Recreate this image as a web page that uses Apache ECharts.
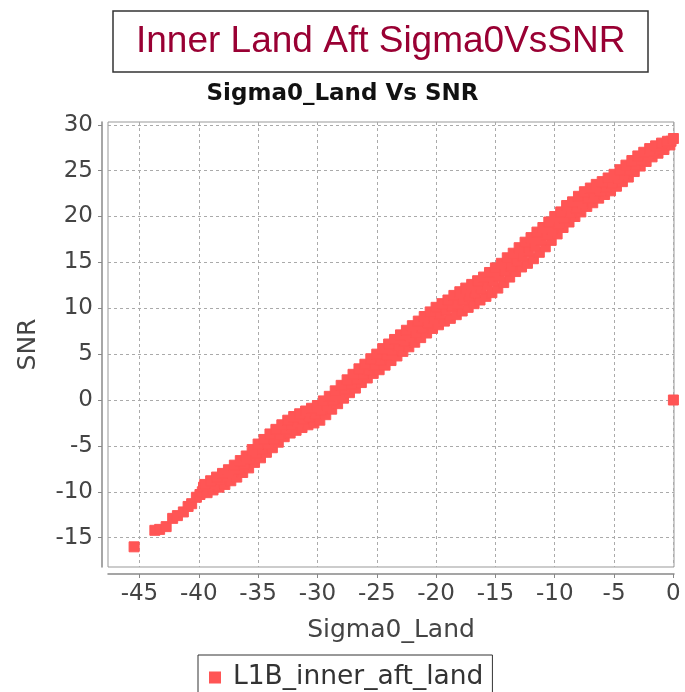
<!DOCTYPE html>
<html>
<head>
<meta charset="utf-8">
<script src="https://cdn.jsdelivr.net/npm/echarts@6/dist/echarts.min.js"></script>
<style>html,body{margin:0;padding:0;background:#fff}#chart{width:685px;height:692px}</style>
</head>
<body>
<div id="chart"></div>
<script>
const chartTitle = 'Inner Land Aft Sigma0VsSNR';
const plotTitle = 'Sigma0_Land Vs SNR';
const xName = 'Sigma0_Land';
const yName = 'SNR';
const seriesName = 'L1B_inner_aft_land';
const xTicks = [-45, -40, -35, -30, -25, -20, -15, -10, -5, 0];
const yTicks = [-15, -10, -5, 0, 5, 10, 15, 20, 25, 30];

// [Sigma0_Land, SNR]
const outlierPoints = [[-45.45, -16.0], [0.0, 0.0]];
const tailPoints = [
  [-43.7,-14.2],[-43.3,-14.1],[-42.75,-13.8],[-42.2,-12.9],[-41.8,-12.6],[-41.3,-12.2],
  [-40.9,-11.6],[-40.6,-11.3],[-40.2,-10.6],[-39.9,-10.3],[-39.7,-10.0],[-39.6,-9.5]
];
const bandUpper = [
  [-39.5,-9.2],[-39.0,-8.8],[-38.5,-8.4],[-38.0,-8.0],[-37.5,-7.6],[-37.0,-7.1],[-36.5,-6.6],[-36.0,-6.1],
  [-35.5,-5.4],[-35.0,-4.8],[-34.5,-4.3],[-34.0,-3.7],[-33.5,-3.2],[-33.0,-2.7],[-32.5,-2.2],[-32.0,-1.8],
  [-31.5,-1.5],[-31.0,-1.2],[-30.5,-0.9],[-30.0,-0.6],[-29.5,-0.1],[-29.0,0.4],[-28.5,1.0],[-28.0,1.6],
  [-27.5,2.2],[-27.0,2.8],[-26.5,3.4],[-26.0,3.9],[-25.5,4.5],[-25.0,5.0],[-24.5,5.6],[-24.0,6.1],
  [-23.5,6.6],[-23.0,7.1],[-22.5,7.6],[-22.0,8.1],[-21.5,8.6],[-21.0,9.1],[-20.5,9.6],[-20.0,10.1],
  [-19.5,10.5],[-19.0,10.9],[-18.5,11.4],[-18.0,11.8],[-17.5,12.2],[-17.0,12.6],[-16.5,13.0],[-16.0,13.4],
  [-15.5,13.9],[-15.0,14.4],[-14.5,14.9],[-14.0,15.5],[-13.5,16.0],[-13.0,16.6],[-12.5,17.2],[-12.0,17.7],
  [-11.5,18.3],[-11.0,18.8],[-10.5,19.4],[-10.0,20.0],[-9.5,20.5],[-9.0,21.2],[-8.5,21.6],[-8.0,22.2],
  [-7.5,22.7],[-7.0,23.1],[-6.5,23.5],[-6.0,23.8],[-5.5,24.2],[-5.0,24.6],[-4.5,25.1],[-4.0,25.6],
  [-3.5,26.1],[-3.0,26.6],[-2.5,27.0],[-2.0,27.4],[-1.5,27.7],[-1.0,28.0],[-0.5,28.2],[0.0,28.5]
];
const bandCenter = [
  [-39.2,-9.4],[-38.7,-9.1],[-38.2,-8.7],[-37.7,-8.3],[-37.2,-7.9],[-36.7,-7.5],[-36.2,-7.0],
  [-35.7,-6.4],[-35.2,-5.8],[-34.7,-5.3],[-34.2,-4.8],[-33.7,-4.3],[-33.2,-3.8],[-32.7,-3.2],[-32.2,-2.7],
  [-31.7,-2.4],[-31.2,-2.1],[-30.7,-1.8],[-30.2,-1.5],[-29.7,-1.1],[-29.2,-0.6],[-28.7,0.0],[-28.2,0.6],
  [-27.7,1.2],[-27.2,1.7],[-26.7,2.3],[-26.2,2.8],[-25.7,3.3],[-25.2,3.8],[-24.7,4.4],[-24.2,4.9],
  [-23.7,5.4],[-23.2,5.9],[-22.7,6.4],[-22.2,6.9],[-21.7,7.4],[-21.2,7.9],[-20.7,8.4],[-20.2,8.9],
  [-19.7,9.4],[-19.2,9.8],[-18.7,10.2],[-18.2,10.5],[-17.7,10.9],[-17.2,11.3],[-16.7,11.7],[-16.2,12.1],
  [-15.7,12.6],[-15.2,13.0],[-14.7,13.5],[-14.2,14.1],[-13.7,14.6],[-13.2,15.2],[-12.7,15.7],[-12.2,16.2],
  [-11.7,16.8],[-11.2,17.4],[-10.7,18.0],[-10.2,18.6],[-9.7,19.2],[-9.2,19.8],[-8.7,20.4],[-8.2,20.9],
  [-7.7,21.5],[-7.2,22.0],[-6.7,22.4],[-6.2,22.8],[-5.7,23.2],[-5.2,23.6],[-4.7,24.1],[-4.2,24.6],
  [-3.7,25.1],[-3.2,25.7],[-2.7,26.2],[-2.2,26.7],[-1.7,27.1],[-1.2,27.5],[-0.7,27.8],[-0.2,28.2]
];
const bandLower = [
  [-39.3,-10.1],[-38.8,-9.8],[-38.3,-9.5],[-37.8,-9.2],[-37.3,-8.8],[-36.8,-8.4],[-36.3,-7.9],[-35.8,-7.4],
  [-35.3,-6.8],[-34.8,-6.3],[-34.3,-5.7],[-33.8,-5.2],[-33.3,-4.6],[-32.8,-4.0],[-32.3,-3.6],[-31.8,-3.3],
  [-31.3,-3.0],[-30.8,-2.7],[-30.3,-2.5],[-29.8,-2.2],[-29.3,-1.6],[-28.8,-1.0],[-28.3,-0.4],[-27.8,0.2],
  [-27.3,0.8],[-26.8,1.3],[-26.3,1.9],[-25.8,2.4],[-25.3,2.9],[-24.8,3.3],[-24.3,3.8],[-23.8,4.3],
  [-23.3,4.8],[-22.8,5.3],[-22.3,5.8],[-21.8,6.3],[-21.3,6.8],[-20.8,7.3],[-20.3,7.8],[-19.8,8.2],
  [-19.3,8.6],[-18.8,8.9],[-18.3,9.3],[-17.8,9.7],[-17.3,10.1],[-16.8,10.5],[-16.3,10.9],[-15.8,11.3],
  [-15.3,11.7],[-14.8,12.2],[-14.3,12.8],[-13.8,13.4],[-13.3,14.0],[-12.8,14.5],[-12.3,14.9],[-11.8,15.4],
  [-11.3,16.1],[-10.8,16.7],[-10.3,17.4],[-9.8,18.1],[-9.3,18.8],[-8.8,19.4],[-8.3,20.0],[-7.8,20.5],
  [-7.3,21.1],[-6.8,21.5],[-6.3,22.0],[-5.8,22.4],[-5.3,22.8],[-4.8,23.3],[-4.3,23.8],[-3.8,24.3],
  [-3.3,24.9],[-2.8,25.5],[-2.3,26.0],[-1.8,26.5],[-1.3,26.9],[-0.8,27.3],[-0.3,27.8]
];

const allPoints = [].concat(outlierPoints, tailPoints, bandLower, bandCenter, bandUpper);
const FONT = 'DejaVu Sans';

const chart = echarts.init(document.getElementById('chart'), null, {renderer: 'canvas'});
chart.setOption({
  animation: false,
  backgroundColor: '#ffffff',
  title: [
    {
      text: chartTitle,
      left: 113, top: 11,
      padding: [12, 23, 12, 23],
      borderColor: '#333333', borderWidth: 1.5,
      textStyle: {fontFamily: 'Liberation Sans', fontSize: 37, lineHeight: 37, fontWeight: 'normal', color: '#990033'}
    },
    {
      text: plotTitle,
      left: 'center', top: 81, padding: 0,
      textStyle: {fontFamily: FONT, fontSize: 23, lineHeight: 26, fontWeight: 'bold', color: '#111111'}
    }
  ],
  legend: {
    left: 198, top: 655,
    padding: [9, 9, 12, 11],
    borderColor: '#333333', borderWidth: 1,
    icon: 'rect', itemWidth: 10, itemHeight: 10,
    textStyle: {fontFamily: FONT, fontSize: 26.5, color: '#333333', padding: [0, 0, 0, 8]},
    data: [seriesName]
  },
  grid: {
    left: 108, right: 11, top: 122, bottom: 125,
    show: true, backgroundColor: '#ffffff', borderColor: '#999999', borderWidth: 1,
    containLabel: false
  },
  xAxis: {
    type: 'value', min: -47.65, max: 0.05,
    offset: 7,
    name: xName, nameLocation: 'middle', nameGap: 44,
    nameTextStyle: {fontFamily: FONT, fontSize: 25, color: '#444444'},
    axisLine: {show: true, onZero: false, lineStyle: {color: '#888888', width: 1.5}},
    axisTick: {show: true, length: 4, customValues: xTicks, lineStyle: {color: '#888888'}},
    axisLabel: {customValues: xTicks, margin: 9, fontFamily: FONT, fontSize: 23, color: '#444444'},
    splitLine: {show: true, lineStyle: {color: '#aaaaaa', type: [3, 3], width: 1}}
  },
  yAxis: {
    type: 'value', min: -18.2, max: 30.3,
    offset: 6,
    name: yName, nameLocation: 'middle', nameGap: 61,
    nameTextStyle: {fontFamily: FONT, fontSize: 25, color: '#444444'},
    axisLine: {show: true, onZero: false, lineStyle: {color: '#888888', width: 1.5}},
    axisTick: {show: true, length: 4, customValues: yTicks, lineStyle: {color: '#888888'}},
    axisLabel: {customValues: yTicks, margin: 9, fontFamily: FONT, fontSize: 23, color: '#444444'},
    splitLine: {show: true, lineStyle: {color: '#aaaaaa', type: [3, 3], width: 1}}
  },
  series: [{
    name: seriesName,
    type: 'scatter',
    symbol: 'rect',
    symbolSize: 10,
    clip: true,
    itemStyle: {color: '#ff5555', opacity: 1, borderColor: '#ff5555', borderWidth: 1},
    emphasis: {disabled: true},
    data: allPoints
  }]
});
</script>
</body>
</html>
